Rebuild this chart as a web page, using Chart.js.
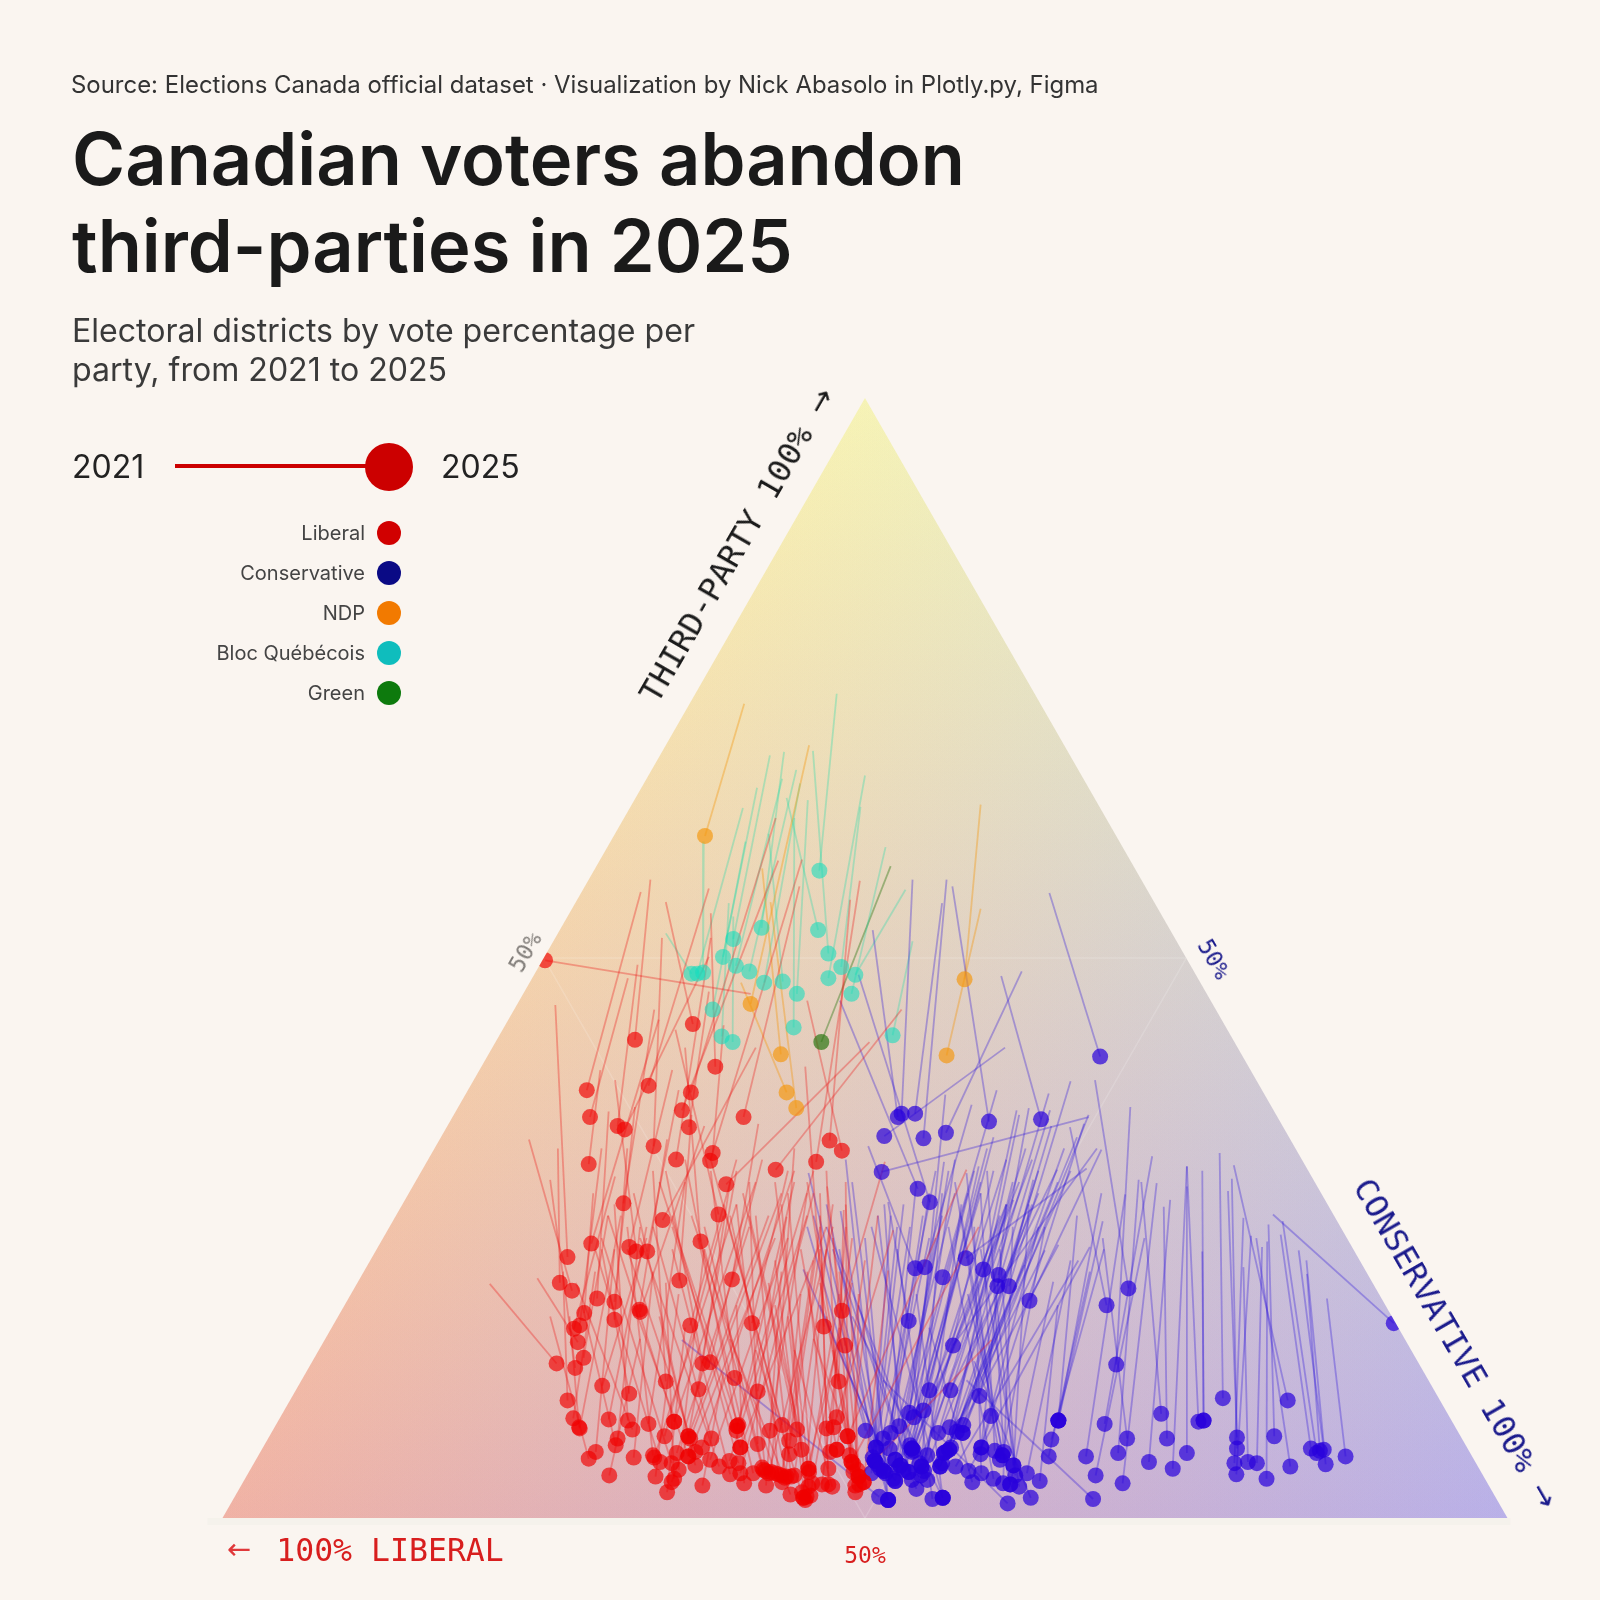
<!DOCTYPE html>
<html>
<head>
<meta charset="utf-8">
<title>Canadian voters abandon third-parties in 2025</title>
<script src="https://cdn.jsdelivr.net/npm/chart.js@4"></script>
<style>
  html, body { margin: 0; background: #faf5f0; }
  #page { position: relative; width: 1600px; height: 1600px; overflow: hidden; font-family: Inter, sans-serif; }
  #myChart { position: absolute; left: 0; top: 0; }
  .t { position: absolute; white-space: nowrap; }
  .mono { font-family: "DejaVu Sans Mono", monospace; transform: translate(-50%, -50%); }
  .arrow { font-family: "DejaVu Sans", sans-serif; transform: translate(-50%, -50%); }
  .dot { position: absolute; border-radius: 50%; }
</style>
</head>
<body>
<div id="page">
  <canvas id="myChart" width="1600" height="1600"></canvas>
  <div class="t" style="left:71px;top:70px;font-size:23.95px;color:#333">Source: Elections Canada official dataset · Visualization by Nick Abasolo in Plotly.py, Figma</div>
  <div class="t" style="left:72px;top:115px;font-size:72.2px;line-height:87px;font-weight:600;color:#1a1a1a">Canadian voters abandon<br>third-parties in 2025</div>
  <div class="t" style="left:72px;top:311px;font-size:32.1px;line-height:39px;color:#3a3a3a">Electoral districts by vote percentage per<br>party, from 2021 to 2025</div>
  <div class="t" style="left:72px;top:447px;font-size:32px;color:#222">2021</div>
  <div class="t" style="left:441px;top:447px;font-size:32px;color:#222">2025</div>
  <div style="position:absolute;left:175px;top:464px;width:200px;height:4px;background:#cc0000"></div>
  <div class="dot" style="left:365px;top:443px;width:48px;height:48px;background:#cc0000"></div>
  <div id="legend"></div>
  <div class="t mono" style="left:726px;top:564px;font-size:32.5px;color:#1a1a1a;transform:translate(-50%,-50%) rotate(-60deg)">THIRD-PARTY 100%</div>
  <div class="t arrow" style="left:820px;top:401px;font-size:30px;color:#1a1a1a;transform:translate(-50%,-50%) rotate(-60deg)">→</div>
  <div class="t mono" style="left:1445px;top:1325px;font-size:32.5px;color:#1a1a8c;transform:translate(-50%,-50%) rotate(60deg)">CONSERVATIVE 100%</div>
  <div class="t arrow" style="left:1544px;top:1495px;font-size:30px;color:#1a1a8c;transform:translate(-50%,-50%) rotate(60deg)">→</div>
  <div class="t mono" style="left:390px;top:1550px;font-size:31.5px;color:#d81e1e">100% LIBERAL</div>
  <div class="t arrow" style="left:239px;top:1549px;font-size:29px;color:#e0383a">←</div>
  <div class="t mono" style="left:865px;top:1555px;font-size:23px;color:#d81e1e">50%</div>
  <div class="t mono" style="left:525px;top:952px;font-size:23px;color:#807c78;transform:translate(-50%,-50%) rotate(-60deg)">50%</div>
  <div class="t mono" style="left:1214px;top:959px;font-size:23px;color:#1a1a8c;transform:translate(-50%,-50%) rotate(60deg)">50%</div>
</div>
<script>
'use strict';
// every riding: [margin 2021, third-party 2021, margin 2025, third-party 2025]
// margin = conservative % minus liberal %
const liberal = [
  [-17.8,46.8,-49.8,49.8],[-31,55,-26.8,44.1],[-33.4,57,-35.8,42.7],[-24,54,-23.3,40.3],[-34.9,55.9,-43.3,38.2],
  [-24.3,56.2,-33.7,38.6],[-13.9,62.5,-27.1,38],[-36.9,48.2,-42.8,35.8],[-35.4,49.4,-38.5,35],[-24.3,50.1,-37.4,34.7],
  [-41.2,40,-43,31.6],[-31.6,51.8,-32.9,33.2],[-24,51.8,-29.4,32],[-13.5,58.7,-28.5,36.4],[-24.3,47,-27.4,34.9],
  [-22,44,-23.7,32.6],[-9.8,58.8,-24.1,31.9],[-10.2,56.4,-18.9,35.8],[0.7,42.5,-21.6,29.8],[-29.5,43.6,-22.8,27.1],
  [5.7,45.4,-13.9,31.1],[-0.8,56.9,-7.6,31.8],[-2.3,55.2,-5.5,33.7],[-9,46.2,-3.6,32.8],[-32.8,45.4,-37.6,28.1],
  [-17,42,-31.5,26.6],[-28,42,-25.6,24.7],[-32.1,44.5,-42.6,24.5],[-48.2,45.8,-46.3,23.3],[-30,40,-36.7,24.2],
  [-38.9,39.1,-35.6,23.8],[-29,38.2,-33.9,23.8],[-27,36,-28.9,21.2],[-16.6,35.2,-20.7,21.3],[-47.8,33,-47.5,21],
  [-52.3,33.8,-45.6,20.3],[-39.9,36.3,-41.7,19.6],[-35.8,36.7,-39,19.3],[-42.3,29,-43.7,18.3],[-41,33,-44.4,17.2],
  [-38.9,30.5,-45.3,16.9],[-37,33,-39,17.7],[-30.8,33.8,-35.1,18.6],[-25,35,-35,18.4],[-51,21.4,-44.7,15.7],
  [-20,32,-27.2,17.2],[-12,31,-17.6,17.4],[-9.3,40.3,-6.4,17.1],[3.1,31.8,-3.6,18.5],[-5.9,29.6,-3.1,15.4],
  [-58.4,20.9,-48,13.8],[-40,27,-43.8,14.3],[-49,30.2,-45.1,13.4],[-34,25,-40.9,11.8],[-41,24,-36.7,11.1],
  [-47,22,-46.3,10.5],[-42,22,-45.4,8.9],[-46,18,-44.5,8.1],[-38,27,-44.4,8],[-34,26,-39.9,8.8],
  [-39,28,-36.9,8.7],[-45,21,-36.2,7.9],[-28,30,-33.7,8.4],[-33,31,-31,12.2],[-21,30,-25.9,11.5],
  [-31,31,-25.3,13.8],[-16,32,-24.1,13.9],[-24,31,-20.3,12.5],[-12.2,26.9,-16.7,11.3],[-3.3,27.5,-4.1,12.2],
  [-40,27,-29.7,8.6],[-17,30,-29.7,8.6],[-22,27,-31.2,7.3],[-35,26,-38.5,7.1],[-44,19,-38.8,6.5],
  [-39,24,-41.9,5.9],[-49,18,-43,5.3],[-33,22,-36,5.4],[-35,16,-39.8,3.8],[-37,26,-33,5.6],
  [-20,28,-32.8,5.4],[-42,24,-31.9,5],[-29,20,-32.6,3.7],[-41,25,-30.1,4.9],[-18,26,-29.3,5.8],
  [-25,24,-29,4.3],[-31,21,-29.7,3.5],[-15,27,-30.1,3.2],[-28,17,-30.8,2.3],[-36,29,-27.5,7.3],
  [-20,31,-27.5,7.3],[-13,29,-27.2,7.1],[-33,26,-23.9,7.1],[-11,31,-25.4,6.3],[-37,24,-26.4,5.9],
  [-14,25,-27.5,5.5],[-36,19,-27.5,5.5],[-32,18,-26.4,4.7],[-12,25,-24.1,5.2],[-35,25,-22.7,4.6],
  [-22,13,-25.3,2.9],[-9,27,-21.1,5.1],[-30,24,-21,3.9],[-30,27,-19.7,4.9],[-8,29,-19.4,4],
  [-20,19,-18.8,3.1],[-8,31,-19.9,8.2],[-28,32,-19.9,8.2],[-32,30,-19.7,8.3],[-11,30,-20,7.8],
  [-30,26,-19.4,6.3],[-6,26,-19.4,6.3],[-18,30,-16.7,6.6],[-9,29,-14.8,7.8],[-24,32,-12.9,8.3],
  [-19,29,-10.6,7.9],[-7,26,-11.8,6.9],[-22,28,-11.8,5.7],[-13,28,-9.9,6.1],[-26,25,-17.4,4],
  [-25,26,-15.8,4.3],[-5,26,-15,4],[-27,27,-14,4],[-8,23,-13,3.8],[-21,27,-12.2,3.7],
  [-5,28,-11,3.8],[-13,22,-15.4,2.9],[-10,20,-12.9,3.2],[-21,16,-11.6,2.1],[-14,30,-8.8,4.4],
  [-18,27,-8.8,4.4],[-4,20,-8.7,4.1],[-14,19,-8.8,2.8],[-6,24,-9.6,1.8],[-17,15,-9.6,1.8],
  [-12,18,-9.1,1.9],[-9,22,-5.7,4.4],[-2,25,-6.7,3],[-7,27,-5.7,3],[-11,15,-5.1,2.8],
  [-7,29,-6,8],[4.4,25.7,-4.9,8.1],[-6,31,-4.4,9],[-3,30,-2.7,7.3],[15.8,31.1,-2.7,7.3],
  [-3,26,-5.4,5.9],[0,23,-4.4,6.1],[-10,24,-4.4,6.1],[-5,25,-2.1,5],[17.7,26,-2.1,5],
  [-6,18,-1.8,4.1],[-4,22,-1,3.7],[19.7,15.9,-1,3.7],[-8,16,-0.2,3.2],[3.6,22.1,-0.2,3.2],
  [-5,15,-1.5,2.9],[-1,20,-1.5,2.3],[-20,28,-15.5,4.2],[-11,33,-14.6,4.1],[-17,27,-13.5,3.9],
  [-7,24,-12.5,3.6],[-15,21,-11.5,3.7],[-25,24,-16,4.5],[-4,17,-8.5,2],[-14,23,-9.3,1.6],
  [-2,21,-9.8,2.3],[-12,29,-8.2,3.1],[-3,28,-0.9,3],[-9,30,-1.8,4.8],[2,27,-2.4,5.6],[-7,21,-1.2,4.3]
];
const conservative = [
  [28.7,55.8,36.6,41.2],[1.2,52.5,5.1,35.8],[7.4,57,5.7,36.1],[12,54.9,7.8,36.1],[21.8,42,3,34.1],
  [12.7,57,9.1,33.9],[24.4,48.8,12.6,34.4],[13.6,56.4,19.3,35.4],[21.2,48.4,27.4,35.6],[34.8,35.8,2.6,30.9],
  [-3.9,46.2,8.2,29.4],[-1,48.5,10.1,28.2],[0.5,33.2,7.8,22.3],[16.6,36.9,9.3,22.4],[20.5,38.2,12.1,21.5],
  [34.5,31.2,15.7,23.2],[23.6,36.4,18.4,22.2],[25.5,36.6,20.8,21.7],[28.8,36.4,20.6,20.7],[32,39,22.4,20.7],
  [36.8,32.9,25.6,19.4],[31.9,34.9,37.6,19],[35.8,39.1,41,20.5],[3.6,28.2,6.8,17.6],[36.1,33,13.7,15.4],
  [41.3,36.7,39.1,13.7],[17.7,31.4,10,11.4],[29.9,31.1,13.3,11.4],[26.2,30.2,17.8,10.9],[15.8,30.8,19.6,9.1],
  [12.3,31.8,6.9,9.4],[12.5,37.8,7.6,9],[22,28,9.1,9.6],[3,28,5.3,8.2],[-9,26,0.1,7.8],
  [8,30,4,7.6],[-2,30,2.8,7.1],[-3,32,1.7,6.3],[6,28,1.7,6.3],[10,29,3.8,6.2],
  [14,32,7.3,6.2],[18,30,7.3,6.2],[20,34,7.3,6.2],[23.1,28.4,7.3,5.9],[25,33,11.4,7.6],
  [28.6,37.9,13.2,8.1],[29,35,15.3,8.3],[31,33,15.2,7.6],[34.8,36,15.2,7.6],[27,31,14.3,7.7],
  [24,36,13.1,6.1],[30.1,24.4,13.1,6.1],[23,30,12.3,5.8],[28,23.9,12.3,5.8],[26,28,11.7,4.6],
  [24.8,22.6,11.7,4.6],[15,28,9.7,5.6],[22,28,8.8,4.6],[12,29,8.8,4.6],[20,31,8.7,3.8],
  [-6,26,9.7,3.4],[-1,19,7.3,3.4],[-5,24,8,2.6],[-8,27,1.5,5.1],[-4,24,1.5,5.1],
  [7,26,1.5,5.1],[9,27,2.9,4.2],[-6,28,2.9,4.2],[5,26,1,4],[12,27,4.7,5.2],
  [16,29,4.7,5.2],[-9.6,22.2,4.7,3.3],[11,25,4.7,3.3],[18,29,5.5,4.7],[13,31,5.5,4.7],
  [21,27,6.8,4.1],[2,27,6.8,4.1],[-28.5,15.9,2.2,1.9],[-8.8,30.8,3.6,1.6],[-3.8,27.4,3.6,1.6],
  [0,25,3.6,1.6],[5,24,10.5,1.7],[1,26,12.1,1.8],[-2,18,12.1,1.8],[8,20,12.1,1.8],
  [33.2,23,14.1,4.6],[35,24.2,16.1,4.2],[17,26,18.1,4],[10,17,16.7,3.2],[34.1,35.2,18.1,6.3],
  [27,26,18.1,6.3],[22,28,18,5.7],[18,29,20.2,6],[14,30,21,5.2],[28,26,21.4,5.6],
  [15,27,21.4,5.6],[19,31,21.6,5.9],[25.5,28,23.1,4.7],[20,22,23.1,4.7],[13,26,20,3.5],
  [23,26,21.5,3.1],[29.3,21.1,22.6,3],[16,20,22.6,3],[18,24,24,2.8],[32,23,25.2,4],
  [21,24,23.4,3.8],[30,19,27.2,3.3],[17,14,25.8,1.8],[2.8,12.3,22.2,1.3],[37.2,24,29,7],
  [36.8,29,30.1,8.7],[33,27,30.1,8.7],[37,26.5,30.1,8.7],[35,22,28.6,5.5],[40.5,28.9,34.4,5.5],
  [44.7,32.3,37.3,8.4],[37,25,40.8,7.1],[42.6,30.2,39.4,5.8],[43.5,25,35.9,3.8],[45.4,29.9,40.1,3.1],
  [15.8,12.3,35.5,1.7],[43,30,46.1,9.3],[46.5,27.8,47,7.1],[47.5,28.4,44.2,5],[50.1,31.4,47.9,4.4],
  [50.1,29.6,50.1,5.8],[50.1,31.4,51.9,8.6],[52.5,31,52.7,8.7],[52.5,23.8,52.7,8.7],[55.2,32.6,55.7,10.7],
  [56.5,29.2,57.9,7.2],[57.1,30.3,57.9,6.2],[58.9,26.8,57.5,4.9],[60.1,25.2,57.8,3.9],[58.9,22.4,59.6,5],
  [61.8,24.2,61,4.9],[62.6,24.7,62.5,3.5],[62.8,26.2,63.7,7.3],[57.4,31.5,65.8,10.5],[60.9,25,66.2,4.6],
  [64.7,25.3,69.4,6.2],[65,26.5,70.3,5.8],[67.5,23.9,71.4,6.1],[68.7,23,71.7,4.8],[71.9,19.6,74.8,5.5],
  [63.5,27.1,82.3,17.4],[68.8,21.8,70.8,6],[19,33,7,6.5],[22,32,7.6,6],[4,27,1.2,5.4],
  [11,31,1.9,4.8],[14,29,3.2,4],[17,31,5.2,4.5],[24,30,6,4.3],[26,32,8.5,4.9],
  [27,29,9.2,4.2],[30,30,12,4.9],[32,31,12.6,5.9],[33,34,13.4,6.3],[-7,19,4.4,3.5],[10,25,2.4,4.4]
];
const ndp = [
  [-18.8,72.7,-24.9,60.9],[-8.7,69,-17.8,45.9],[-16,58,-13.1,41.4],[-19.3,47.8,-12.2,38],
  [-14.7,55,-10.7,36.6],[18,63.7,15.5,48.1],[18,54.4,12.7,41.3]
];
const bloc = [
  [-4.4,73.6,-7.1,57.8],[-12.6,68.4,-16.1,52.7],[-14.8,68.1,-20.5,51.7],[-12.2,64.3,-7.3,52.5],[-8.1,68.5,-5.7,50.4],
  [-16.8,65.2,-22.1,50.1],[-12.9,66,-20.1,49.3],[-31,52.2,-27,48.6],[-25.1,60.4,-25.2,48.7],[-19,63.4,-26.1,48.6],
  [-10.7,66.8,-18,48.8],[-10.1,65.6,-15.7,47.8],[-15,61.1,-12.8,47.9],[-8.9,64.1,-10.6,46.8],[-0.7,63.5,-3.7,49.2],
  [0,66.3,-5.7,48.2],[6.3,56.1,-1.5,48.5],[3.2,59.9,-2.1,46.8],[-18.6,60.4,-23.7,45.4],[-11,62.5,-11.1,43.8],
  [-21.2,54.9,-22.3,43],[-20.5,53.7,-20.6,42.5],[7.4,51.5,4.3,43.1]
];
const green = [[4,58.2,-6.8,42.5]];

const parties = ['Liberal', 'Conservative', 'NDP', 'Bloc Québécois', 'Green'];
const partyRidings = [liberal, conservative, ndp, bloc, green];
const legendColors = ['#d10000', '#0a0a85', '#f27a00', '#0fbdbd', '#0d7a0d'];
const dotColors = ['rgba(240,0,0,.66)', 'rgba(40,0,220,.7)', 'rgba(245,150,10,.66)', 'rgba(20,220,190,.58)', 'rgba(45,120,20,.7)'];
const lineColors = ['rgba(238,20,20,.33)', 'rgba(45,20,220,.33)', 'rgba(245,150,10,.38)', 'rgba(20,220,170,.3)', 'rgba(45,120,20,.42)'];
const gridLines = [[[-50, 50], [50, 50]], [[50, 50], [0, 0]], [[-50, 50], [0, 0]]];
const cornerColors = { left: [240, 178, 165], right: [185, 176, 232], top: [246, 243, 182] };

// legend rows
const legend = document.getElementById('legend');
parties.forEach((name, i) => {
  const y = 533 + i * 40;
  legend.insertAdjacentHTML('beforeend',
    `<div class="t" style="right:${1600 - 365}px;top:${y - 12}px;font-size:20px;color:#444">${name}</div>` +
    `<div class="dot" style="left:377px;top:${y - 12}px;width:24px;height:24px;background:${legendColors[i]}"></div>`);
});

const datasets = [];
gridLines.forEach(g => {
  datasets.push({
    data: g.map(p => ({ x: p[0], y: p[1] })),
    showLine: true, pointRadius: 0, borderWidth: 1.5,
    borderColor: 'rgba(255,255,255,.16)', order: 3
  });
});
partyRidings.forEach((rows, i) => {
  rows.forEach(r => {
    datasets.push({
      data: [{ x: r[0], y: r[1] }, { x: r[2], y: r[3] }],
      showLine: true, pointRadius: 0, borderWidth: 1.8,
      borderColor: lineColors[i], order: 2
    });
  });
  datasets.push({
    label: parties[i],
    data: rows.map(r => ({ x: r[2], y: r[3] })),
    pointRadius: 8, pointBorderWidth: 0,
    pointBackgroundColor: dotColors[i], order: 1
  });
});

function foot(p, a, b) {
  const dx = b.x - a.x, dy = b.y - a.y;
  const k = ((p.x - a.x) * dx + (p.y - a.y) * dy) / (dx * dx + dy * dy);
  return { x: a.x + k * dx, y: a.y + k * dy };
}

// three colour corners, added up on a scratch canvas, clipped to the triangle
const trianglePlugin = {
  id: 'triangle',
  beforeDatasetsDraw(chart) {
    const { ctx, scales: { x, y } } = chart;
    const L = { x: x.getPixelForValue(-100), y: y.getPixelForValue(0) };
    const R = { x: x.getPixelForValue(100), y: y.getPixelForValue(0) };
    const T = { x: x.getPixelForValue(0), y: y.getPixelForValue(100) };

    ctx.fillStyle = 'rgba(236,236,228,.38)';
    ctx.fillRect(L.x - 15, L.y, R.x - L.x + 18, 7);

    const off = document.createElement('canvas');
    off.width = chart.width;
    off.height = chart.height;
    const o = off.getContext('2d');
    o.fillStyle = '#000';
    o.fillRect(0, 0, off.width, off.height);
    o.globalCompositeOperation = 'lighter';
    [[L, R, T, cornerColors.left], [R, L, T, cornerColors.right], [T, L, R, cornerColors.top]].forEach(c => {
      const f = foot(c[0], c[1], c[2]);
      const g = o.createLinearGradient(c[0].x, c[0].y, f.x, f.y);
      g.addColorStop(0, `rgb(${c[3].join(',')})`);
      g.addColorStop(1, '#000');
      o.fillStyle = g;
      o.fillRect(0, 0, off.width, off.height);
    });

    ctx.save();
    ctx.beginPath();
    ctx.moveTo(L.x, L.y);
    ctx.lineTo(R.x, R.y);
    ctx.lineTo(T.x, T.y);
    ctx.closePath();
    ctx.clip();
    ctx.drawImage(off, 0, 0, chart.width, chart.height);
  },
  afterDatasetsDraw(chart) {
    chart.ctx.restore();
  }
};

new Chart(document.getElementById('myChart'), {
  type: 'scatter',
  data: { datasets },
  options: {
    responsive: false,
    animation: false,
    events: [],
    layout: { padding: 0, autoPadding: false },
    plugins: { legend: { display: false }, tooltip: { enabled: false } },
    scales: {
      x: { display: false, min: -134.63, max: 114.4 },
      y: { display: false, min: -7.32, max: 135.54 }
    }
  },
  plugins: [trianglePlugin]
});
</script>
</body>
</html>
